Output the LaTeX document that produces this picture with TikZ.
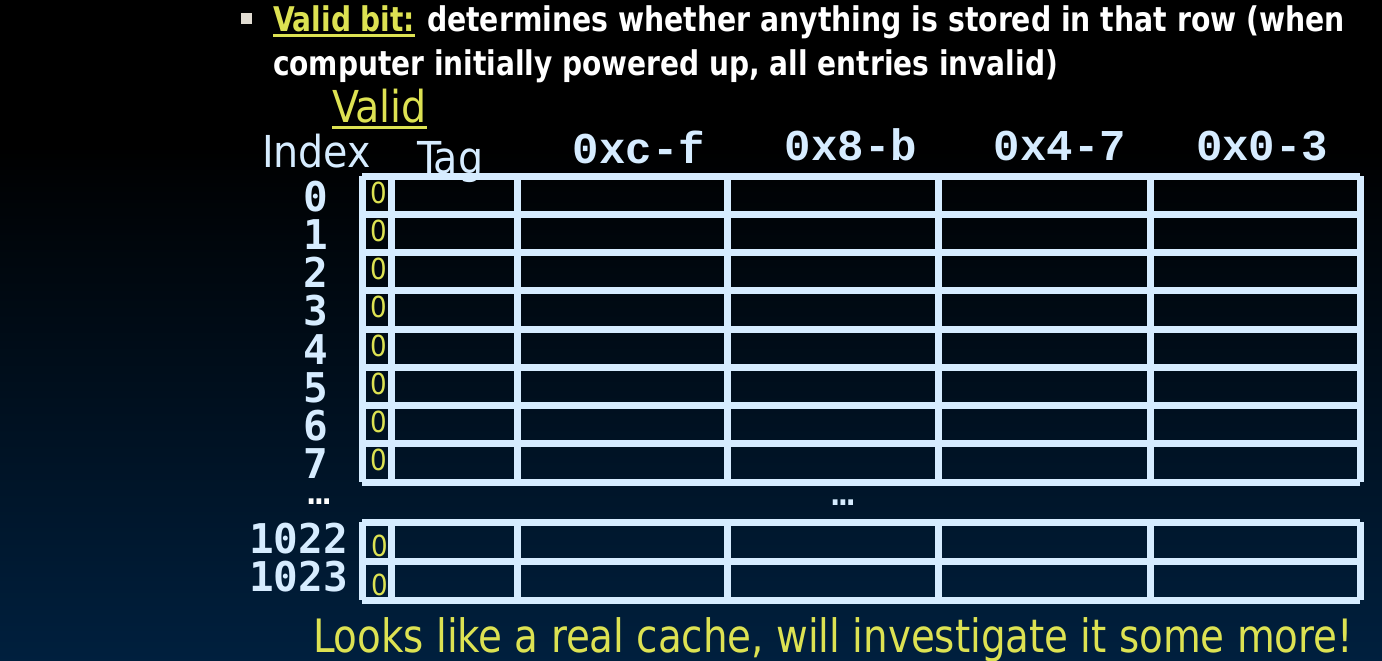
\documentclass[tikz,border=0pt]{standalone}
\usepackage{fontspec}
\usepackage{graphicx}
\setmainfont{DejaVu Sans Condensed}
\newfontfamily\hdrfont{Liberation Mono}
\newfontfamily\idxfont{DejaVu Sans Mono}
\definecolor{ylw}{RGB}{221,226,82}
\definecolor{lblue}{RGB}{214,236,255}
\definecolor{bulletc}{RGB}{225,220,210}
\definecolor{bgblue}{RGB}{0,52,102}
\pgfdeclareverticalshading{bgshade}{100bp}{color(0bp)=(bgblue); color(64bp)=(black); color(100bp)=(black)}
\newcommand{\fitw}[2]{\resizebox{#1}{\height}{#2}}
\tikzset{
  txt/.style={inner sep=0pt, outer sep=0pt},
  hd/.style={txt, text=white, font=\bfseries\fontsize{34}{40}\selectfont},
  lbl/.style={txt, text=lblue, font=\fontsize{44}{50}\selectfont},
  colhd/.style={txt, text=lblue, font=\hdrfont\bfseries\fontsize{44}{50}\selectfont},
  idx/.style={txt, text=lblue, font=\idxfont\bfseries\fontsize{41}{46}\selectfont},
  vbit/.style={txt, text=ylw, font=\fontsize{29}{34}\selectfont},
  grid/.style={draw=lblue, line width=7pt},
  dots/.style={txt, font=\bfseries\fontsize{30}{34}\selectfont},
}
\begin{document}
\begin{tikzpicture}[x=1pt,y=-1pt]
\useasboundingbox (0,0) rectangle (1382,661);
\shade[shading=bgshade] (0,0) rectangle (1382,661);
% bullet
\fill[bulletc] (240.5,13.5) rectangle (251.5,24.5);
% header text
\node[hd, text=ylw, anchor=base west] (vb) at (273,32) {\fitw{142pt}{Valid bit:}};
\draw[ylw, line width=2.5pt] ([yshift=-3.5pt]vb.base west) -- ([yshift=-3.5pt]vb.base east);
\node[hd, anchor=base west] (l1) at (427,32) {\fitw{918pt}{determines whether anything is stored in that row (when}};
\node[hd, anchor=base west] (l2) at (273,75) {\fitw{785pt}{computer initially powered up, all entries invalid)}};
% labels
\node[lbl, text=ylw, anchor=base west] (valid) at (332,122) {Valid};
\draw[ylw, line width=3pt] ([yshift=-5pt]valid.base west) -- ([yshift=-5pt]valid.base east);
\node[lbl, anchor=base west] (index) at (262,167) {Index};
\node[lbl, anchor=base west] (tag) at (417,173) {Tag};
\node[colhd, anchor=base] (c1) at (639,163) {0xc-f};
\node[colhd, anchor=base] (c2) at (851,160) {0x8-b};
\node[colhd, anchor=base] (c3) at (1060,160) {0x4-7};
\node[colhd, anchor=base] (c4) at (1262,160) {0x0-3};
% grid upper block
\foreach \i in {0,...,8} {
  \draw[grid] (362,176+38.25*\i) -- (1360,176+38.25*\i);
}
\foreach \x in {362,391,517,727,938,1150,1360} {
  \draw[grid] (\x,176) -- (\x,482);
}
% grid lower block
\foreach \y in {522,561,600} {
  \draw[grid] (362,\y) -- (1360,\y);
}
\foreach \x in {362,391,517,727,938,1150,1360} {
  \draw[grid] (\x,522) -- (\x,600);
}
% index numbers and valid bits
\foreach \i in {0,...,7} {
  \node[idx, anchor=base] (i\i) at (316,211+38.25*\i) {\i};
  \node[vbit, anchor=base] (v\i) at (379,203+38.25*\i) {0};
}
\node[idx, anchor=base east] (i1022) at (348,553) {1022};
\node[idx, anchor=base east] (i1023) at (348,591) {1023};
\node[vbit, anchor=base] (v1022) at (380,556) {0};
\node[vbit, anchor=base] (v1023) at (380,595) {0};
% ellipses
\node[dots, text=white, anchor=base] (d1) at (319,504) {.\kern-2.5pt.\kern-2.5pt.};
\node[dots, text=lblue, anchor=base] (d2) at (843,505) {.\kern-2.5pt.\kern-2.5pt.};
% bottom text
\node[txt, text=ylw, font=\fontsize{46}{52}\selectfont, anchor=base west] (foot) at (313,652) {\fitw{1040pt}{Looks like a real cache, will investigate it some more!}};
\end{tikzpicture}
\end{document}
